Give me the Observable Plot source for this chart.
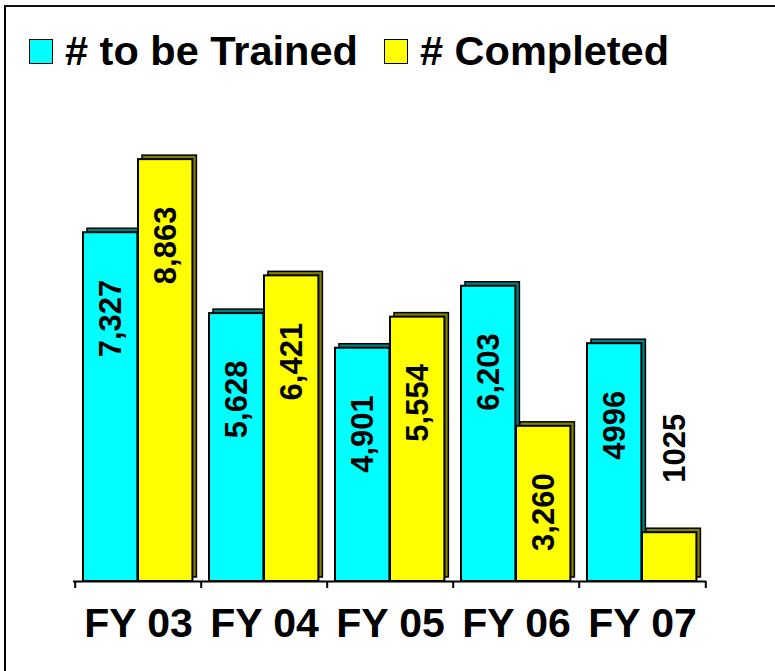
<!DOCTYPE html>
<html>
<head>
<meta charset="utf-8">
<script src="https://cdn.jsdelivr.net/npm/d3@7"></script>
<script src="https://cdn.jsdelivr.net/npm/@observablehq/plot@0.6"></script>
<style>
  html, body { margin: 0; padding: 0; background: #fff; }
  #wrap { position: relative; width: 775px; height: 671px; overflow: hidden; background: #fff;
          font-family: "Liberation Sans", Arial, sans-serif; }
  #frame { position: absolute; left: 4px; top: 5px; width: 780px; height: 664px;
           border-left: 2px solid #000; border-top: 2px solid #111; border-bottom: 2px solid #555;
           pointer-events: none; z-index: 2; }
  #legend { position: relative; height: 90px; }
  .item { position: absolute; top: 30px; display: flex; align-items: flex-start;
          font-size: 41.5px; font-weight: bold; line-height: 1; color: #000; white-space: nowrap; }
  .sw { width: 22px; height: 23px; border: 1.5px solid #000; margin-top: 9px; margin-right: 12px; }
  #chart { position: absolute; left: 0; top: 90px; }
</style>
</head>
<body>
<div id="wrap">
  <div id="frame"></div>
  <div id="legend"></div>
  <div id="chart"></div>
</div>
<script>
// ---- data ----
const years = ["FY 03", "FY 04", "FY 05", "FY 06", "FY 07"];
const trained = [7327, 5628, 4901, 6203, 4996];
const completed = [8863, 6421, 5554, 3260, 1025];
const trainedLabels = ["7,327", "5,628", "4,901", "6,203", "4996"];
const completedLabels = ["8,863", "6,421", "5,554", "3,260", "1025"];
const seriesNames = ["# to be Trained", "# Completed"];
const seriesColors = ["#00FFFF", "#FFFF00"];
const sideColors = ["#008080", "#808000"];
const yDomain = [0, 10000];

// ---- table ----
const rows = years.map((year, i) => ({
  year, trained: trained[i], completed: completed[i],
  trainedLabel: trainedLabels[i], completedLabel: completedLabels[i]
}));

// ---- legend ----
const legend = document.getElementById("legend");
const legendLefts = [29, 384];
seriesNames.forEach((name, i) => {
  const it = document.createElement("div");
  it.className = "item";
  it.style.left = legendLefts[i] + "px";
  const sw = document.createElement("div");
  sw.className = "sw";
  sw.style.background = seriesColors[i];
  it.appendChild(sw);
  const t = document.createElement("span");
  t.textContent = name;
  it.appendChild(t);
  legend.appendChild(it);
});

// ---- layout ----
const W = 775, H = 581;
const mL = 73, mR = 69, mT = 15, mB = 90;
const bw = (W - mL - mR) / years.length;
const pad = 8, barW = 55, depth = 4;
const inTrained = {insetLeft: pad, insetRight: bw - pad - barW};
const inCompleted = {insetLeft: pad + barW, insetRight: bw - pad - 2 * barW};
const lblTrainedDx = pad + barW / 2 - bw / 2;
const lblCompletedDx = pad + barW * 1.5 - bw / 2;
const inside = (v) => v >= 2000;

const chart = Plot.plot({
  width: W, height: H,
  marginLeft: mL, marginRight: mR, marginTop: mT, marginBottom: mB,
  style: {fontFamily: "Liberation Sans, Arial, sans-serif", fontSize: "41px", fontWeight: "bold", color: "#000", background: "transparent"},
  x: {domain: years, padding: 0, label: null, tickSize: 0, tickPadding: 26},
  y: {domain: yDomain, axis: null},
  marks: [
    // trained: depth then front
    Plot.barY(rows, {x: "year", y: "trained", fill: sideColors[0], stroke: "#000", strokeWidth: 1.5, dx: depth, dy: -depth, ...inTrained}),
    Plot.barY(rows, {x: "year", y: "trained", fill: seriesColors[0], stroke: "#000", strokeWidth: 2, ...inTrained}),
    // completed: depth then front
    Plot.barY(rows, {x: "year", y: "completed", fill: sideColors[1], stroke: "#000", strokeWidth: 1.5, dx: depth, dy: -depth, ...inCompleted}),
    Plot.barY(rows, {x: "year", y: "completed", fill: seriesColors[1], stroke: "#000", strokeWidth: 2, ...inCompleted}),
    // baseline and boundary ticks
    Plot.ruleY([0], {stroke: "#000", strokeWidth: 2}),
    Plot.ruleX(years, {x: d => d, y1: 0, y2: 0, insetBottom: -7, dx: -bw / 2, stroke: "#000", strokeWidth: 2}),
    Plot.ruleX(years.slice(-1), {x: d => d, y1: 0, y2: 0, insetBottom: -7, dx: bw / 2, stroke: "#000", strokeWidth: 2}),
    // value labels
    Plot.text(rows.filter(d => inside(d.trained)), {x: "year", y: "trained", text: "trainedLabel", rotate: -90, textAnchor: "end", dx: lblTrainedDx, dy: 47, fontSize: 31, fontWeight: "bold", fill: "#000"}),
    Plot.text(rows.filter(d => inside(d.completed)), {x: "year", y: "completed", text: "completedLabel", rotate: -90, textAnchor: "end", dx: lblCompletedDx, dy: 47, fontSize: 31, fontWeight: "bold", fill: "#000"}),
    Plot.text(rows.filter(d => !inside(d.completed)), {x: "year", y: "completed", text: "completedLabel", rotate: -90, textAnchor: "start", dx: lblCompletedDx + 5, dy: -50, fontSize: 31, fontWeight: "bold", fill: "#000"})
  ]
});
document.getElementById("chart").appendChild(chart);
</script>
</body>
</html>
